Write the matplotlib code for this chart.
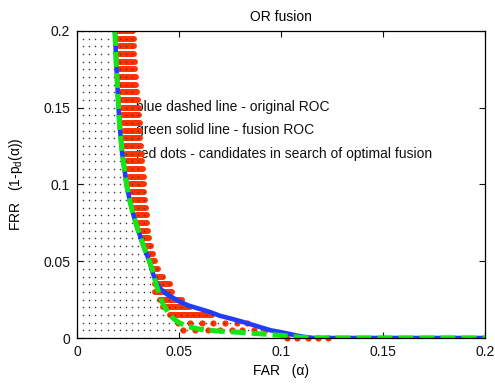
import numpy as np
import matplotlib
matplotlib.use("Agg")
import matplotlib.pyplot as plt

plt.rcParams['font.family'] = ['Liberation Sans', 'DejaVu Sans']
plt.rcParams['mathtext.default'] = 'regular'

# ---- data ----
# shared upper part of both ROC curves (FAR, FRR)
upper_far = [0.0186, 0.0192, 0.0200, 0.0208, 0.0222, 0.0243, 0.0258, 0.0277, 0.0300, 0.0326, 0.0355]
upper_frr = [0.200, 0.180, 0.160, 0.140, 0.120, 0.100, 0.090, 0.080, 0.070, 0.060, 0.050]

# original ROC (blue), lower part
orig_far = [0.0372, 0.0390, 0.0410, 0.0440, 0.0480, 0.0505, 0.0550, 0.0600, 0.0650, 0.0700,
            0.0750, 0.0800, 0.0850, 0.0900, 0.0950, 0.1000, 0.1040, 0.1080, 0.1120, 0.1160, 0.2000]
orig_frr = [0.0420, 0.0360, 0.0320, 0.0285, 0.0255, 0.0235, 0.0210, 0.0190, 0.0170, 0.0145,
            0.0128, 0.0110, 0.0090, 0.0070, 0.0050, 0.0038, 0.0027, 0.0015, 0.0006, 0.0000, 0.0000]

# fusion ROC (green), lower part
fus_far = [0.0368, 0.0378, 0.0390, 0.0405, 0.0422, 0.0445, 0.0470, 0.0500, 0.0540, 0.0600,
           0.0670, 0.0770, 0.0900, 0.1000, 0.1080, 0.1140, 0.2000]
fus_frr = [0.0450, 0.0400, 0.0340, 0.0280, 0.0220, 0.0170, 0.0130, 0.0100, 0.0075, 0.0058,
           0.0048, 0.0039, 0.0027, 0.0017, 0.0007, 0.0000, 0.0000]

# candidate rows (dense) : FRR level, FAR left, FAR right
cand_frr = [0.015, 0.020, 0.025, 0.030, 0.035, 0.040, 0.045, 0.050, 0.055, 0.060, 0.065, 0.070,
            0.075, 0.080, 0.085, 0.090, 0.095, 0.100, 0.105, 0.110, 0.115, 0.120, 0.125, 0.130,
            0.135, 0.140, 0.145, 0.150, 0.155, 0.160, 0.165, 0.170, 0.175, 0.180, 0.185, 0.190,
            0.195, 0.200]
cand_left = [0.0456, 0.0420, 0.0407, 0.0380, 0.0380, 0.0390, 0.0370, 0.0358, 0.0348, 0.0333,
             0.0323, 0.0314, 0.0304, 0.0294, 0.0284, 0.0275, 0.0267, 0.0260, 0.0255, 0.0250,
             0.0245, 0.0240, 0.0235, 0.0230, 0.0228, 0.0225, 0.0223, 0.0221, 0.0218, 0.0216,
             0.0213, 0.0211, 0.0208, 0.0206, 0.0206, 0.0206, 0.0203, 0.0201]
cand_right = [0.0660, 0.0554, 0.0515, 0.0466, 0.0456, 0.0420, 0.0397, 0.0380, 0.0373, 0.0363,
              0.0355, 0.0348, 0.0345, 0.0343, 0.0338, 0.0333, 0.0330, 0.0328, 0.0326, 0.0324,
              0.0321, 0.0319, 0.0314, 0.0309, 0.0309, 0.0309, 0.0306, 0.0304, 0.0299, 0.0294,
              0.0291, 0.0289, 0.0286, 0.0284, 0.0281, 0.0279, 0.0277, 0.0275]

# candidate rows (sparse)
sparse_frr = [0.010, 0.005, 0.000]
sparse_far = [[0.0495, 0.0554, 0.0613, 0.0667, 0.0725, 0.0784, 0.0833],
              [0.0520, 0.0580, 0.0640, 0.0700, 0.0760, 0.0810, 0.0870, 0.0920],
              [0.1030, 0.1080, 0.1130, 0.1180, 0.1230]]

# grid of searched operating points: step size and extent per FRR row
grid_far_step = 0.003
grid_frr_levels = [0.000, 0.005, 0.010] + cand_frr
grid_far_extent = [0.120, 0.092, 0.084] + cand_right

xticks = [0, 0.05, 0.1, 0.15, 0.2]
xticklabels = ['0', '0.05', '0.1', '0.15', '0.2']
yticks = [0, 0.05, 0.1, 0.15, 0.2]
yticklabels = ['0', '0.05', '0.1', '0.15', '0.2']

legend_lines = ['blue dashed line - original ROC',
                'green solid line - fusion ROC',
                'red dots - candidates in search of optimal fusion']

# ---- plot ----
fig = plt.figure(figsize=(4.95, 3.85), dpi=100)
ax = fig.add_axes([77/495, 47/385, 408/495, 307/385])

RED = '#ff3300'
BLUE = '#1f3cff'
GREEN = '#14e614'

# annotation text (under the red candidates)
for t, yv in zip(legend_lines, [0.1505, 0.1355, 0.1200]):
    ax.text(0.0289, yv, t, fontsize=10, va='center', ha='left', zorder=1, color='#111111')

# red candidate stripes
for yv, l, r in zip(cand_frr, cand_left, cand_right):
    ax.plot([l, r], [yv, yv], color=RED, lw=4.3, solid_capstyle='round', zorder=2)
for yv, xs in zip(sparse_frr, sparse_far):
    ax.plot(xs, [yv] * len(xs), ls='none', marker='o', ms=4.5, color=RED, mew=0,
            zorder=2, clip_on=(yv > 0))

# black grid dots
for yv, ext in zip(grid_frr_levels, grid_far_extent):
    xs = np.arange(grid_far_step, ext + 1e-9, grid_far_step)
    ax.plot(xs, [yv] * len(xs), ls='none', marker='s', ms=1.0, mew=0, color='#3a3a3a', zorder=3)

# ROC curves
ax.plot(upper_far + orig_far, upper_frr + orig_frr, color=BLUE, lw=3.3, zorder=4,
        solid_joinstyle='round')
ax.plot(upper_far + fus_far, upper_frr + fus_frr, color=GREEN, lw=3.6, zorder=5,
        dashes=(3, 1.2))

ax.set_xlim(0, 0.2)
ax.set_ylim(0, 0.2)
ax.set_xticks(xticks)
ax.set_xticklabels(xticklabels)
ax.set_yticks(yticks)
ax.set_yticklabels(yticklabels)
ax.tick_params(direction='in', length=4, width=0.8, top=True, right=True,
               labelsize=10, pad=5, colors='#111111')
for s in ax.spines.values():
    s.set_linewidth(0.9)
    s.set_zorder(6)

ax.set_title('OR fusion', fontsize=10, pad=7)
ax.set_xlabel('FAR   (α)', fontsize=10, labelpad=4)
ax.set_ylabel('FRR   (1-p$_d$(α))', fontsize=10, labelpad=13)

fig.savefig('out.png', dpi=100)
